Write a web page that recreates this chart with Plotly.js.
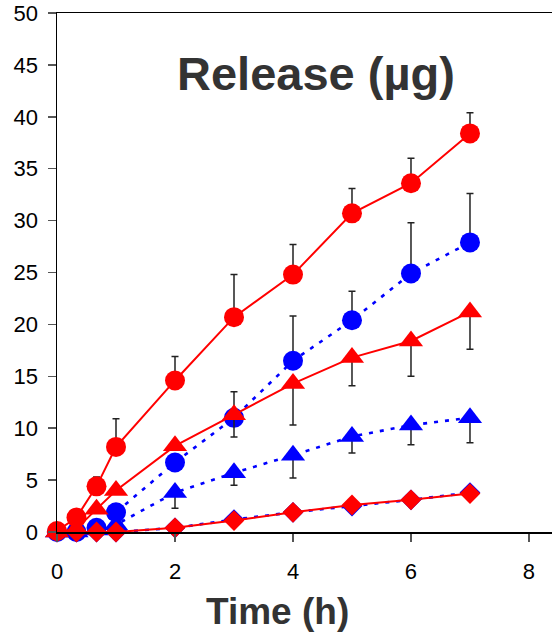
<!DOCTYPE html>
<html><head><meta charset="utf-8">
<script src="https://cdn.plot.ly/plotly-3.0.1.min.js"></script>
<style>html,body{margin:0;padding:0;background:#fff}#chart{width:552px;height:635px}</style>
</head><body><div id="chart"></div>
<script>
const timeH = [0, 0.33, 0.67, 1, 2, 3, 4, 5, 6, 7];

const redCircle    = [0.1, 1.4, 4.4, 8.2, 14.6, 20.7, 24.8, 30.7, 33.6, 38.4];
const redCircleErrUp = [0, 0, 0.9, 2.7, 2.3, 4.1, 2.9, 2.4, 2.4, 2.0];

const blueCircle   = [0, 0, 0.4, 1.9, 6.7, 11.0, 16.5, 20.4, 24.9, 27.9];
const blueCircleErrUp = [0, 0, 0, 0, 0, 2.5, 4.3, 2.8, 4.9, 4.7];

const redTriangle  = [0, 0.3, 2.2, 4.0, 8.3, 11.3, 14.3, 16.8, 18.4, 21.2];
const redTriangleErrDown = [0, 0, 0, 0, 0, 2.15, 4.0, 2.7, 3.4, 3.6];

const blueTriangle = [0, 0, 0.2, 0.7, 3.8, 5.7, 7.4, 9.2, 10.3, 11.0];
const blueTriangleErrDown = [0, 0, 0, 0, 1.5, 1.2, 2.2, 1.6, 1.9, 2.4];

const redDiamond   = [0, 0, 0, 0, 0.4, 1.1, 1.9, 2.6, 3.1, 3.7];
const blueDiamond  = [0, 0, 0, 0, 0.4, 1.2, 1.9, 2.5, 3.1, 3.8];

const xTicks = [0, 2, 4, 6, 8];
const yTicks = [0, 5, 10, 15, 20, 25, 30, 35, 40, 45, 50];

const RED = '#ff0000', BLUE = '#0000ff';
const blueLine = {color: BLUE, width: 2.6, dash: '4px,7px'};
const redLine = {color: RED, width: 2};
function errUp(arr){return {type:'data', symmetric:false, array:arr, arrayminus:arr.map(()=>0), color:'#222', thickness:1.5, width:3.5};}
function errDown(arr){return {type:'data', symmetric:false, array:arr.map(()=>0), arrayminus:arr, color:'#222', thickness:1.5, width:3.5};}

const traces = [
  {x: timeH, y: blueDiamond, mode:'lines+markers', line: blueLine, marker:{symbol:'diamond', size:16, color:BLUE}, cliponaxis:false},
  {x: timeH, y: blueTriangle, mode:'lines+markers', line: blueLine, marker:{symbol:'triangle-up', size:21, color:BLUE}, error_y: errDown(blueTriangleErrDown), cliponaxis:false},
  {x: timeH, y: blueCircle, mode:'lines+markers', line: blueLine, marker:{symbol:'circle', size:20, color:BLUE}, error_y: errUp(blueCircleErrUp), cliponaxis:false},
  {x: timeH, y: redDiamond, mode:'lines+markers', line: redLine, marker:{symbol:'diamond', size:16, color:RED}, cliponaxis:false},
  {x: timeH, y: redTriangle, mode:'lines+markers', line: redLine, marker:{symbol:'triangle-up', size:21, color:RED}, error_y: errDown(redTriangleErrDown), cliponaxis:false},
  {x: timeH, y: redCircle, mode:'lines+markers', line: redLine, marker:{symbol:'circle', size:20, color:RED}, error_y: errUp(redCircleErrUp), cliponaxis:false}
];

const layout = {
  width: 552, height: 635,
  margin: {l:57, r:0, t:13, b:103},
  paper_bgcolor:'#fff', plot_bgcolor:'#fff',
  showlegend:false,
  font:{family:'"Liberation Sans", Arial, sans-serif', color:'#000'},
  xaxis:{range:[0, 8.39], tickvals:xTicks, ticktext:xTicks.map(String), showgrid:false, zeroline:false,
    showline:true, linecolor:'#000', linewidth:1.5, mirror:true,
    ticks:'outside', ticklen:8, tickwidth:1.5, tickcolor:'#555', tickfont:{size:22, color:'#000'}, ticklabelstandoff:11},
  yaxis:{range:[0, 50], tickvals:yTicks, ticktext:yTicks.map(String), showgrid:false, zeroline:false,
    showline:true, linecolor:'#000', linewidth:1.5,
    ticks:'outside', ticklen:8, tickwidth:1.5, tickcolor:'#555', tickfont:{size:22, color:'#000'}, ticklabelstandoff:5},
  annotations:[
    {text:'Release (µg)', xref:'paper', yref:'paper', x:(316-57)/495, y:(532-73)/519, xanchor:'center', yanchor:'middle', showarrow:false,
     font:{size:47, color:'#333', family:'"Liberation Sans", Arial, sans-serif', weight:'bold'}},
    {text:'Time (h)', xref:'paper', yref:'paper', x:(277-57)/495, y:(532-611.5)/519, xanchor:'center', yanchor:'middle', showarrow:false,
     font:{size:37, color:'#333', family:'"Liberation Sans", Arial, sans-serif', weight:'bold'}}
  ]
};
Plotly.newPlot('chart', traces, layout, {displayModeBar:false, staticPlot:true});
</script></body></html>
